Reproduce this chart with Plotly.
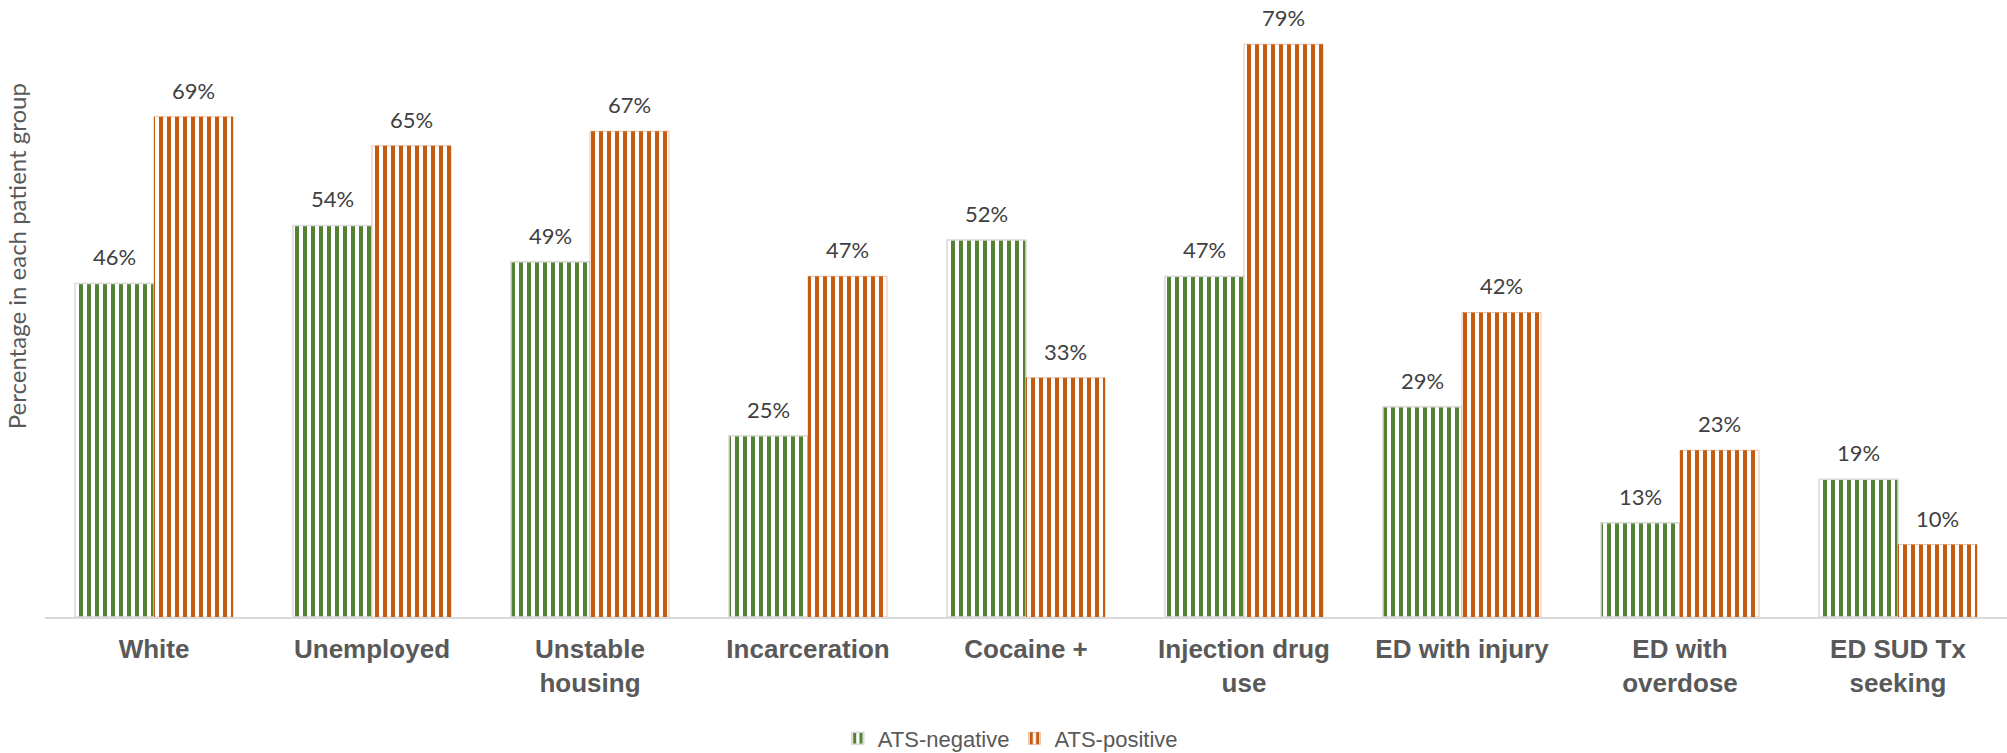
import plotly.graph_objects as go

categories = [
    "White", "Unemployed", "Unstable<br>housing", "Incarceration", "Cocaine +",
    "Injection drug<br>use", "ED with injury", "ED with<br>overdose", "ED SUD Tx<br>seeking",
]
ats_negative = [46, 54, 49, 25, 52, 47, 29, 13, 19]
ats_positive = [69, 65, 67, 47, 33, 79, 42, 23, 10]

GREEN = "#548235"
ORANGE = "#C55A11"

fig = go.Figure()
fig.add_trace(go.Bar(
    name="ATS-negative", x=categories, y=ats_negative,
    marker=dict(
        color="white",
        line=dict(color="#d9d9d9", width=1.5),
        pattern=dict(shape="|", fgcolor=GREEN, bgcolor="white", size=8, solidity=0.5,
                     fillmode="replace", fgopacity=1),
    ),
))
fig.add_trace(go.Bar(
    name="ATS-positive", x=categories, y=ats_positive,
    marker=dict(
        color="white",
        line=dict(color="rgba(197,90,17,0.35)", width=1),
        pattern=dict(shape="|", fgcolor=ORANGE, bgcolor="white", size=8, solidity=0.5,
                     fillmode="replace", fgopacity=1),
    ),
))

# value labels above each bar
annotations = []
for series, shift in ((ats_negative, -39.5), (ats_positive, 39.5)):
    for cat, val in zip(categories, series):
        annotations.append(dict(
            x=cat, y=val, xref="x", yref="y", text=f"{val}%", showarrow=False,
            xshift=shift, yshift=11, yanchor="bottom",
            font=dict(family="Lato", size=22, color="#404040"),
        ))

annotations.append(dict(
    x=-0.0145, y=0.584, xref="paper", yref="paper", text="Percentage in each patient group",
    textangle=-90, showarrow=False, xanchor="center", yanchor="middle",
    font=dict(family="Lato", size=24, color="#595959"),
))

fig.update_layout(
    width=2007, height=753,
    margin=dict(l=45, r=0, t=0, b=136, autoexpand=False),
    paper_bgcolor="white", plot_bgcolor="white",
    barmode="group", bargap=0.275, bargroupgap=0,
    showlegend=True,
    legend=dict(
        orientation="h", x=0.492, xanchor="center", y=-0.197, yanchor="middle",
        font=dict(family="Liberation Sans", size=22, color="#595959"),
        itemwidth=30,
    ),
    xaxis=dict(
        showline=True, linecolor="#d9d9d9", linewidth=2,
        showgrid=False, ticks="", automargin=False, ticklabelstandoff=8,
        tickfont=dict(family="Liberation Sans", size=26, color="#595959", weight="bold"),
    ),
    yaxis=dict(
        range=[0, 85.1], showticklabels=False, showgrid=False,
        zeroline=False, showline=False, ticks="", automargin=False,
    ),
    annotations=annotations,
)

fig.write_html("out.html")
